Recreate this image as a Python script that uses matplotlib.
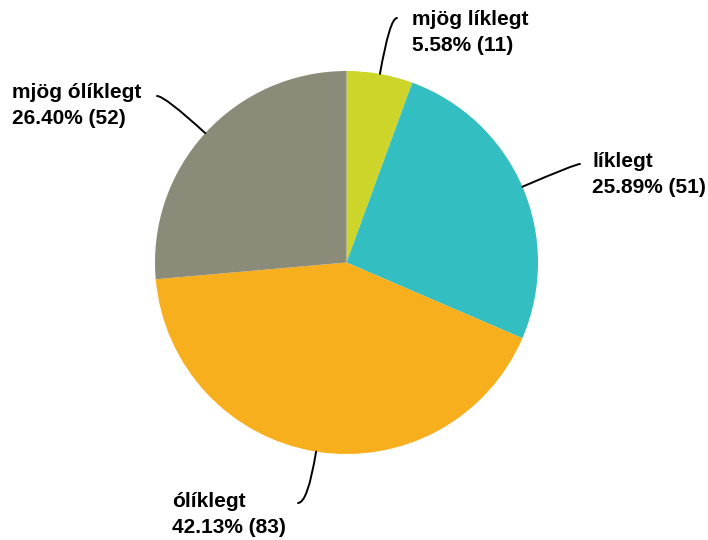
import numpy as np
import matplotlib
matplotlib.use("Agg")
import matplotlib.pyplot as plt

categories = ["mjög líklegt", "líklegt", "ólíklegt", "mjög ólíklegt"]
counts = [11, 51, 83, 52]
colors = ["#CDD52B", "#33BEC1", "#F7AF1E", "#8A8B78"]

W, H = 708, 540
fig = plt.figure(figsize=(W / 100, H / 100), dpi=100)
ax = fig.add_axes([0, 0, 1, 1])

cx, cy, r = 346.5, H - 262.5, 191.5
wedges, _ = ax.pie(counts, colors=colors, startangle=90, counterclock=False,
                   center=(cx, cy), radius=r, frame=True,
                   wedgeprops=dict(linewidth=0))
ax.set_xlim(0, W)
ax.set_ylim(0, H)
ax.set_aspect("equal")
ax.axis("off")

total = sum(counts)
# layout: line end point (label side) and text anchor per slice (pixels, y down)
line_ends = [(397, 18), (580, 164), (298, 503), (157, 96)]
text_pos = [(412, 25), (592, 167), (172, 507), (12, 98)]
line_gap = 26

font = dict(family=["Liberation Sans", "DejaVu Sans"], fontsize=15.0,
            fontweight="bold", color="black")

for w, cat, n, (lx, ly), (tx, ty) in zip(wedges, categories, counts, line_ends, text_pos):
    ang = (w.theta1 + w.theta2) / 2
    px = cx + r * np.cos(np.radians(ang))
    py = cy + r * np.sin(np.radians(ang))
    ax.annotate("", xy=(px, py), xytext=(lx, H - ly),
                arrowprops=dict(arrowstyle="-", color="black", lw=1.4,
                                shrinkA=0, shrinkB=0,
                                connectionstyle=f"angle3,angleA=0,angleB={ang}"))
    pct = n / total * 100
    ax.text(tx, H - ty, cat, ha="left", va="baseline", **font)
    ax.text(tx, H - ty - line_gap, f"{pct:.2f}% ({n})", ha="left", va="baseline", **font)

fig.savefig("out.png", dpi=100)
